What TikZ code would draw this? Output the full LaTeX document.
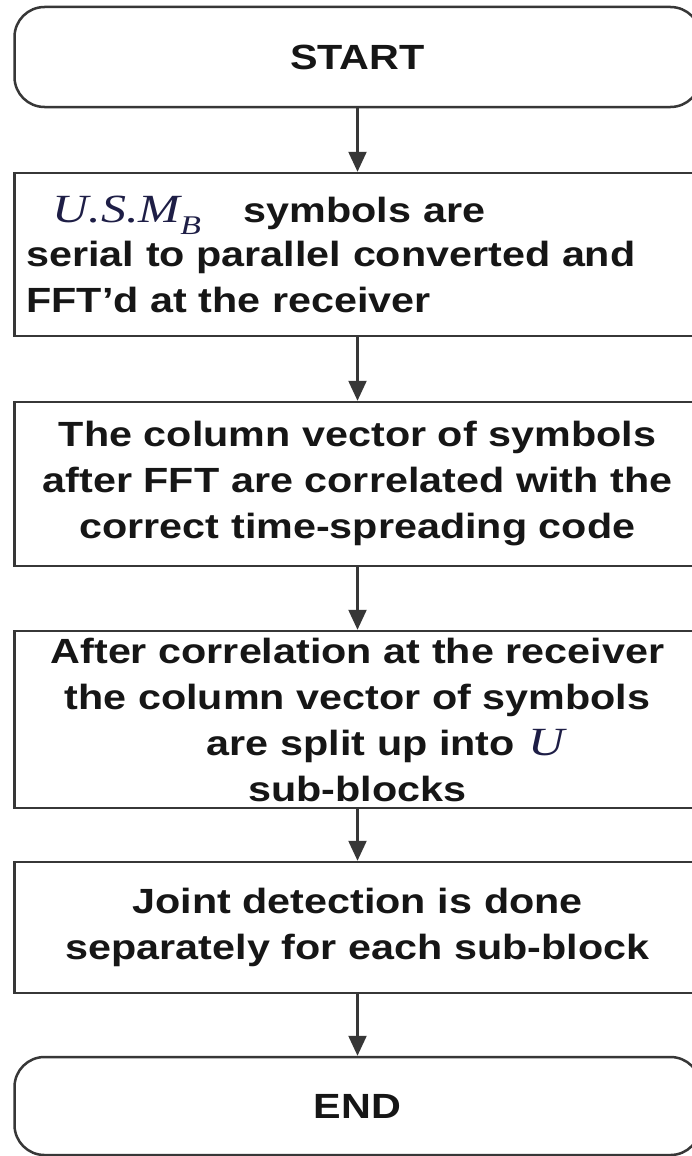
\documentclass[tikz,border=0pt]{standalone}
\usepackage{fontspec}
\setmainfont{Liberation Sans}[FakeStretch=1.18]
\newfontfamily\eqfont{Liberation Serif}[FakeStretch=1.25]
\usetikzlibrary{arrows.meta}

\definecolor{edge}{RGB}{55,55,55}
\definecolor{ink}{RGB}{22,22,22}
\definecolor{mathink}{RGB}{30,30,70}

% italic symbol names set in a serif face
\newcommand{\varsym}[1]{{\fontsize{40}{46}\selectfont\eqfont\mdseries\itshape\color{mathink}#1}}
\newcommand{\subsym}[1]{{\fontsize{27}{27}\selectfont\eqfont\mdseries\itshape\color{mathink}#1}}
\newcommand{\usmb}{\varsym{U.S.M}\raisebox{-12pt}{\subsym{B}}}

\tikzset{
  base/.style={draw=edge, line width=2.5pt, minimum width=686pt, inner sep=0pt,
    font=\fontsize{35}{46}\selectfont\bfseries, text=ink},
  terminal/.style={base, rounded corners=30pt, minimum height=100pt},
  process/.style={base, rectangle, text width=662pt, align=center},
  flow/.style={draw=edge, line width=2.3pt, -{Triangle[length=20pt,width=18pt]}}
}

\begin{document}
\begin{tikzpicture}[x=1pt,y=-1pt]
\useasboundingbox (0,0) rectangle (692,1156);
\clip (0,0) rectangle (692,1156);
\fill[white] (0,0) rectangle (692,1156);

\node[terminal] (start) at (357.5,57) {START};

\node[process, align=left, minimum height=163pt] (convert) at (357.5,254.5)
  {\hspace*{26pt}\usmb\hspace{43pt}symbols are\\[-2pt]
   serial to parallel converted and\\
   FFT’d at the receiver};

\node[process, minimum height=164pt] (correlate) at (357.5,484)
  {The column vector of symbols\\
   after FFT are correlated with the\\
   correct time-spreading code};

\node[process, minimum height=177pt] (split) at (357.5,719.5)
  {After correlation at the receiver\\
   the column vector of symbols\\
   \hspace*{57pt}are split up into\hspace{14pt}\varsym{U}\\
   sub-blocks};

\node[process, minimum height=131pt] (detect) at (357.5,927.5)
  {Joint detection is done\\
   separately for each sub-block};

\node[terminal, minimum height=98pt] (finish) at (357.5,1106) {END};

\draw[flow] (start) -- (convert);
\draw[flow] (convert) -- (correlate);
\draw[flow] (correlate) -- (split);
\draw[flow] (split) -- (detect);
\draw[flow] (detect) -- (finish);
\end{tikzpicture}
\end{document}
